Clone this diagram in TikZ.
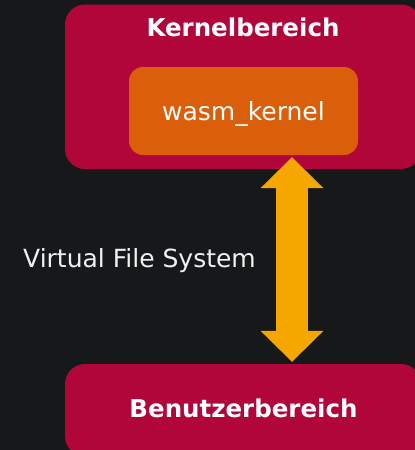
\documentclass[tikz,border=0pt]{standalone}
\usepackage{fontspec}
\setmainfont{DejaVu Sans}
\usetikzlibrary{arrows.meta}
\definecolor{bg}{HTML}{16181A}
\definecolor{crim}{HTML}{B0063A}
\definecolor{orng}{HTML}{DB5F0A}
\definecolor{arrowc}{HTML}{F5A700}
\tikzset{
  region/.style={fill=crim, rounded corners=20pt, inner sep=0pt},
  inner/.style={fill=orng, rounded corners=14pt, inner sep=0pt},
  title/.style={text=white, font=\fontsize{24.5}{28}\selectfont\bfseries, inner sep=0pt, anchor=base},
  plain/.style={text=white!94!bg, font=\fontsize{25}{28}\selectfont, inner sep=0pt, anchor=base},
  vfs/.style={draw=arrowc, line width=32pt,
    {Triangle[length=31pt,width=63pt,line width=0pt]}-{Triangle[length=31pt,width=63pt,line width=0pt]},
    shorten <=2pt, shorten >=2pt}
}
\begin{document}
\begin{tikzpicture}[x=1pt,y=-1pt]
\fill[bg] (0,0) rectangle (415,450);
\useasboundingbox (0,0) rectangle (415,450);
\begin{scope}
\clip (0,0) rectangle (415,450);
\node[region, minimum width=356pt, minimum height=164.5pt] (kbox) at (243,86.75) {};
\node[region, minimum width=356pt, minimum height=92pt] (ubox) at (243,410) {};
\node[inner, minimum width=229pt, minimum height=88pt] (wasm) at (243.5,111) {};
\node[plain, text=white] (wasmt) at (243.5,120) {wasm\_kernel};
\node[title] (ktitle) at (243,36) {Kernelbereich};
\node[title] (utitle) at (243.5,417) {Benutzerbereich};
\coordinate (ax) at (292,0);
\draw[vfs] (wasm.south -| ax) -- (ubox.north -| ax);
\node[plain] (vfsl) at (139.5,267) {Virtual File System};
\end{scope}
\end{tikzpicture}
\end{document}
